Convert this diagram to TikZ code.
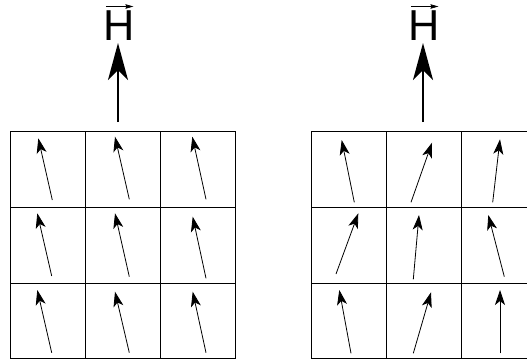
\documentclass[tikz,border=0pt]{standalone}
\usepackage{fontspec}
\setmainfont{Liberation Sans}
\usetikzlibrary{arrows.meta}
\begin{document}
\begin{tikzpicture}[x=1pt,y=-1pt,
  gridline/.style={line width=1pt},
  spin/.style={line width=0.8pt,-{Stealth[length=15pt,width=10pt,inset=4pt]}},
  field/.style={line width=2pt,-{Stealth[length=37pt,width=20pt,inset=10pt]}},
  hlabel/.style={inner sep=0pt,anchor=base,font=\fontsize{43.3}{50}\selectfont},
  vecbar/.style={line width=0.7pt,-{Stealth[length=8pt,width=4.5pt,inset=1pt]}}]
\useasboundingbox (0,0) rectangle (527,362);
\clip (0,0) rectangle (527,362);
\fill[white] (0,0) rectangle (527,362);

% ---- field labels ----
\node[hlabel] (H1) at (118.8,40) {H};
\node[hlabel] (H2) at (423.8,40) {H};
\draw[vecbar] ([xshift=3pt,yshift=3.5pt]H1.north west) -- ([xshift=-1.2pt,yshift=3.5pt]H1.north east);
\draw[vecbar] ([xshift=3pt,yshift=3.5pt]H2.north west) -- ([xshift=-1.2pt,yshift=3.5pt]H2.north east);

% ---- field arrows ----
\coordinate (F1t) at (118,122);
\coordinate (F1h) at (118,43);
\coordinate (F2t) at (423,122);
\coordinate (F2h) at (423,43);
\draw[field] (F1t) -- (F1h);
\draw[field] (F2t) -- (F2h);

% ---- grids ----
\foreach \x in {10,85,160,235} \draw[gridline] (\x,131) -- (\x,358.5);
\foreach \y in {131,207,283,358.5} \draw[gridline] (10,\y) -- (235,\y);
\foreach \x in {311,386,461,536} \draw[gridline] (\x,131) -- (\x,358.5);
\foreach \y in {131,207,283,358.5} \draw[gridline] (311,\y) -- (536,\y);

% ---- spins, left (aligned) ----
\foreach \a/\b/\c/\d in {
  52.3/200/38.3/138.3, 129.3/199.3/115/136.7, 206/199.3/192.3/136.7,
  51.7/276/37.3/213.3, 129.3/276.7/115/213.3, 206/278.3/192.7/216.7,
  51.7/352.7/37.3/290, 129.3/352.7/115/291.7, 206/352.7/192.7/291.7}
  \draw[spin] (\a,\b) -- (\c,\d);

% ---- spins, right (disordered) ----
\foreach \a/\b/\c/\d in {
  354.3/202.3/341.7/140, 411/202.3/432/142.7, 492.7/202.3/500/139.3,
  336/274/358.3/213.3, 413.3/279.3/419/215, 504.3/276.7/488.3/215,
  351/353.3/339.3/290, 413.3/353.3/431/292.3, 500/353.3/500/290}
  \draw[spin] (\a,\b) -- (\c,\d);
\end{tikzpicture}
\end{document}
